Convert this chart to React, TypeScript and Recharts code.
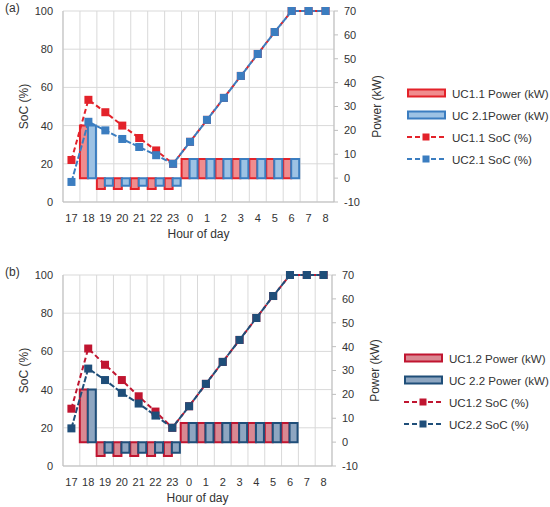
import { Bar, CartesianGrid, ComposedChart, Line, XAxis, YAxis } from "recharts";

const hours = ["17", "18", "19", "20", "21", "22", "23", "0", "1", "2", "3", "4", "5", "6", "7", "8"];

const uc11Power = [null, 22, -4.6, -4.6, -4.6, -4.6, -4.6, 8, 8, 8, 8, 8, 8, 8, null, null];
const uc21Power = [null, 22, -3.2, -3.2, -3.2, -3.2, -3.2, 8, 8, 8, 8, 8, 8, 8, null, null];
const uc11Soc = [22, 53.5, 47, 40, 33.5, 27, 20, 31.5, 43, 54.5, 66, 77.5, 89, 100, 100, 100];
const uc21Soc = [10.5, 42, 37.5, 33, 28.8, 24.5, 20, 31.5, 43, 54.5, 66, 77.5, 89, 100, 100, 100];

const uc12Power = [null, 22, -5.8, -5.8, -5.8, -5.8, -5.8, 8, 8, 8, 8, 8, 8, 8, null, null];
const uc22Power = [null, 22, -4.4, -4.4, -4.4, -4.4, -4.4, 8, 8, 8, 8, 8, 8, 8, null, null];
const uc12Soc = [30, 61.5, 53, 45, 36.5, 28.5, 20, 31.3, 43, 54.5, 66, 77.5, 89, 100, 100, 100];
const uc22Soc = [19.7, 51, 45, 38.3, 32.7, 26.4, 20, 31.3, 43, 54.5, 66, 77.5, 89, 100, 100, 100];

const socTicks = [0, 20, 40, 60, 80, 100];
const powerTicks = [-10, 0, 10, 20, 30, 40, 50, 60, 70];

const FONT = "'Liberation Sans', Arial, sans-serif";
const TEXT = "#333333";

interface IPanelProps {
    tag: string,
    top: number,
    height: number,
    marginTop: number,
    marginRight: number,
    names: Array<string>,
    powerA: Array<number | null>,
    powerB: Array<number | null>,
    socA: Array<number>,
    socB: Array<number>,
    red: string,
    redFill: string,
    blue: string,
    blueFill: string,
    legendLeft: number,
    legendTop: number,
}

function squareDot(color: string) {
    return (props: any) => {
        const { cx, cy, index } = props;
        if (cx == null || cy == null) return <g key={`n-${index}`} />;
        return <rect key={`d-${index}`} x={cx - 4} y={cy - 4} width={8} height={8} fill={color} />;
    };
}

function LegendRow({ kind, color, fill, name }: { kind: string, color: string, fill?: string, name: string }) {
    return (
        <div style={{ display: "flex", alignItems: "center", height: 22 }}>
            <svg width={42} height={12} style={{ marginRight: 4 }}>
                {kind === "bar" ? (
                    <rect x={2} y={2.5} width={37} height={7} fill={fill} stroke={color} strokeWidth={2} />
                ) : (
                    <g>
                        <line x1={1} y1={6} x2={39} y2={6} stroke={color} strokeWidth={2} strokeDasharray="5 3" />
                        <rect x={16.5} y={2.5} width={7} height={7} fill={color} />
                    </g>
                )}
            </svg>
            <span>{name}</span>
        </div>
    );
}

function Panel(p: IPanelProps) {
    const data = hours.map((hour, i) => ({
        hour,
        powerA: p.powerA[i],
        powerB: p.powerB[i],
        socA: p.socA[i],
        socB: p.socB[i],
    }));

    return (
        <div style={{ position: "absolute", left: 0, top: p.top, width: 550, height: p.height }}>
            <div style={{ position: "absolute", left: 5, top: p.tag === "(a)" ? 1 : 15, fontFamily: FONT, fontSize: 12, color: TEXT }}>
                {p.tag}
            </div>
            <ComposedChart
                width={550}
                height={p.height}
                data={data}
                margin={{ top: p.marginTop, right: p.marginRight, bottom: p.height - p.marginTop - 191 - 40, left: 0 }}
                barCategoryGap={0}
                barGap={0}
                style={{ fontFamily: FONT }}
            >
                <CartesianGrid
                    yAxisId="soc"
                    stroke="#D9D9D9"
                    verticalCoordinatesGenerator={({ offset }: any) =>
                        hours.concat([""]).map((_h, i) => offset.left + (i * offset.width) / hours.length)
                    }
                />
                <XAxis
                    dataKey="hour"
                    height={40}
                    axisLine={{ stroke: "#BFBFBF" }}
                    tickLine={false}
                    interval={0}
                    tick={{ fill: TEXT, fontSize: 11 }}
                    tickMargin={6}
                    label={({ viewBox }: any) => (
                        <text x={viewBox.x + viewBox.width / 2} y={viewBox.y + 31.5} textAnchor="middle" dominantBaseline="central" fontSize={12} fill={TEXT}>
                            Hour of day
                        </text>
                    )}
                />
                <YAxis
                    yAxisId="soc"
                    width={63}
                    domain={[0, 100]}
                    ticks={socTicks}
                    axisLine={{ stroke: "#BFBFBF" }}
                    tickLine={false}
                    tickMargin={4}
                    tick={{ fill: TEXT, fontSize: 11 }}
                    label={({ viewBox }: any) => (
                        <text x={viewBox.x + 24} y={viewBox.y + viewBox.height / 2} transform={`rotate(-90, ${viewBox.x + 24}, ${viewBox.y + viewBox.height / 2})`} textAnchor="middle" dominantBaseline="central" fontSize={12} fill={TEXT}>
                            SoC (%)
                        </text>
                    )}
                />
                <YAxis
                    yAxisId="pow"
                    orientation="right"
                    width={50}
                    domain={[-10, 70]}
                    ticks={powerTicks}
                    axisLine={{ stroke: "#BFBFBF" }}
                    tickLine={{ stroke: "#BFBFBF" }}
                    tickSize={4}
                    tickMargin={6}
                    tick={{ fill: TEXT, fontSize: 11 }}
                    label={({ viewBox }: any) => (
                        <text x={viewBox.x + 43} y={viewBox.y + viewBox.height / 2} transform={`rotate(-90, ${viewBox.x + 43}, ${viewBox.y + viewBox.height / 2})`} textAnchor="middle" dominantBaseline="central" fontSize={12} fill={TEXT}>
                            Power (kW)
                        </text>
                    )}
                />
                <Bar yAxisId="pow" dataKey="powerA" name={p.names[0]} fill={p.redFill} stroke={p.red} strokeWidth={2} isAnimationActive={false} />
                <Bar yAxisId="pow" dataKey="powerB" name={p.names[1]} fill={p.blueFill} stroke={p.blue} strokeWidth={2} isAnimationActive={false} />
                <Line yAxisId="soc" type="linear" dataKey="socA" name={p.names[2]} stroke={p.red} strokeWidth={2} strokeDasharray="5 3" dot={squareDot(p.red)} activeDot={false} isAnimationActive={false} />
                <Line yAxisId="soc" type="linear" dataKey="socB" name={p.names[3]} stroke={p.blue} strokeWidth={2} strokeDasharray="6 2" dot={squareDot(p.blue)} activeDot={false} isAnimationActive={false} />
            </ComposedChart>
            <div style={{ position: "absolute", left: p.legendLeft, top: p.legendTop, fontFamily: FONT, fontSize: 11.6, color: TEXT, whiteSpace: "nowrap" }}>
                <LegendRow kind="bar" color={p.red} fill={p.redFill} name={p.names[0]} />
                <LegendRow kind="bar" color={p.blue} fill={p.blueFill} name={p.names[1]} />
                <LegendRow kind="line" color={p.red} name={p.names[2]} />
                <LegendRow kind="line" color={p.blue} name={p.names[3]} />
            </div>
        </div>
    );
}

export default function App() {
    return (
        <div style={{ position: "absolute", left: 0, top: 0, width: 550, height: 507, background: "#fff" }}>
            <Panel
                tag="(a)"
                top={0}
                height={250}
                marginTop={11}
                marginRight={166}
                names={["UC1.1 Power (kW)", "UC 2.1Power (kW)", "UC1.1 SoC (%)", "UC2.1 SoC (%)"]}
                powerA={uc11Power}
                powerB={uc21Power}
                socA={uc11Soc}
                socB={uc21Soc}
                red="#E3222A"
                redFill="#F08C8E"
                blue="#3B7DC0"
                blueFill="#9DC2E4"
                legendLeft={406}
                legendTop={82}
            />
            <Panel
                tag="(b)"
                top={250}
                height={257}
                marginTop={25}
                marginRight={168}
                names={["UC1.2 Power (kW)", "UC 2.2 Power (kW)", "UC1.2 SoC (%)", "UC2.2 SoC (%)"]}
                powerA={uc12Power}
                powerB={uc22Power}
                socA={uc12Soc}
                socB={uc22Soc}
                red="#C01530"
                redFill="#D98892"
                blue="#1F4E79"
                blueFill="#8EA6C1"
                legendLeft={403}
                legendTop={97}
            />
        </div>
    );
}
